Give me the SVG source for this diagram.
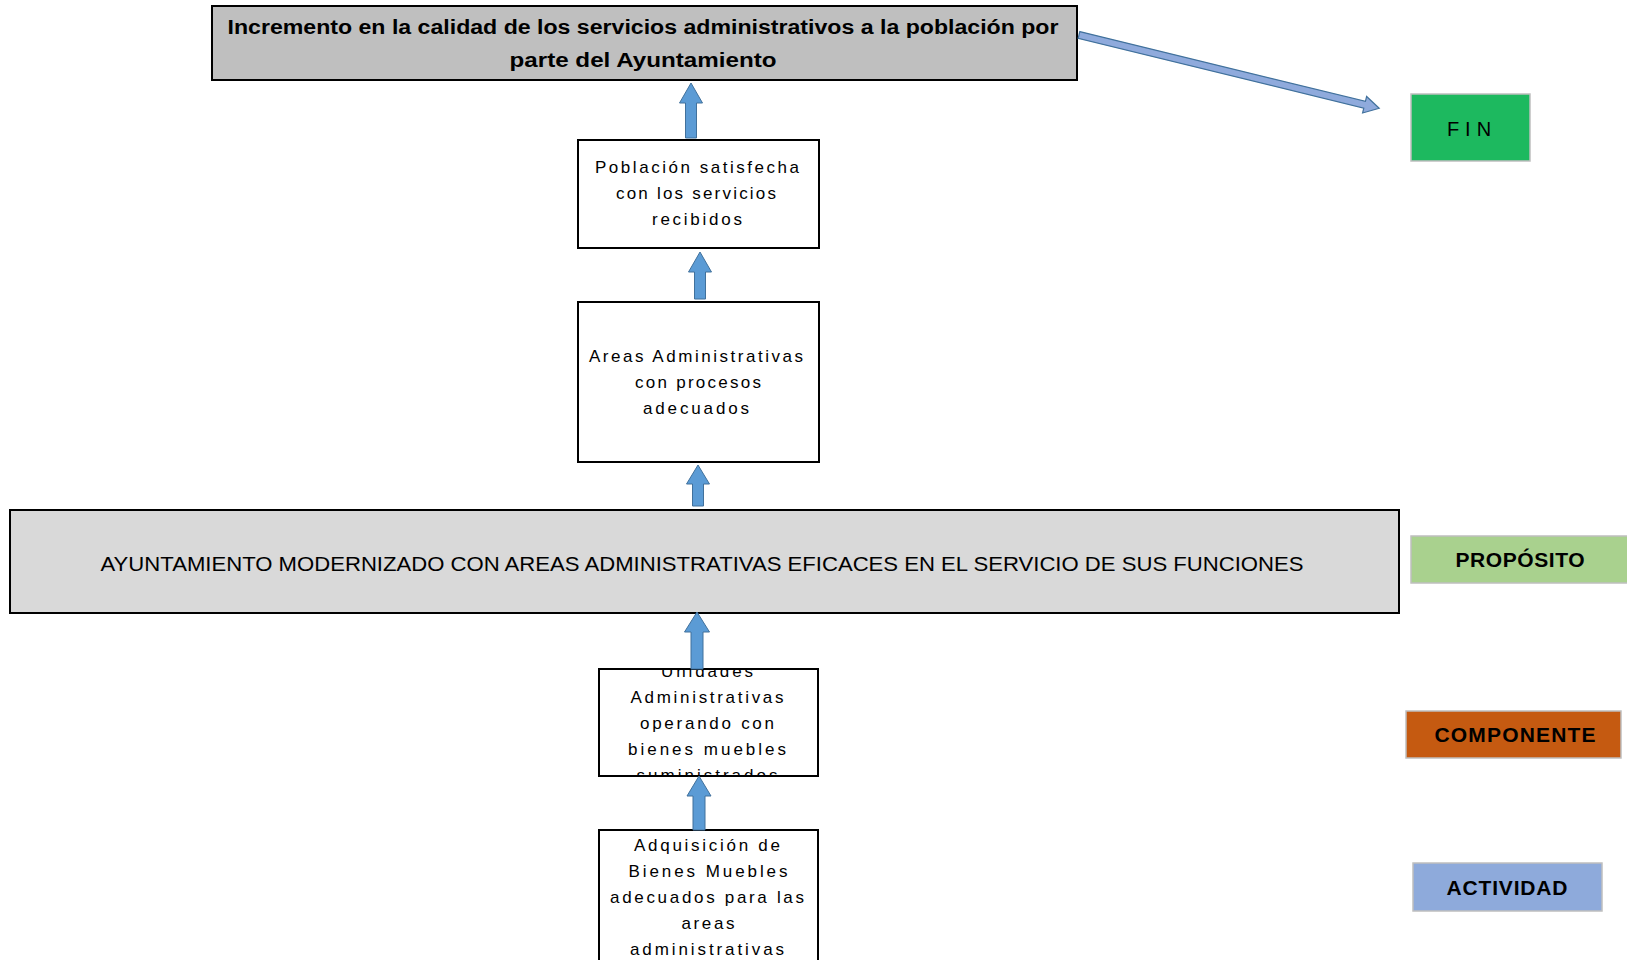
<svg xmlns="http://www.w3.org/2000/svg" width="1627" height="960" viewBox="0 0 1627 960">
<defs>
<style>
.box{stroke:#000;stroke-width:2}
.t{font-family:"Liberation Sans",Arial,sans-serif;fill:#000;text-anchor:middle}
.b{font-weight:bold}
.small{font-size:17px}
.arr{fill:#5b9bd5;stroke:#41719c;stroke-width:1}
.lab{stroke:#bfbfbf;stroke-width:1.5}
</style>
<clipPath id="clip5"><rect x="599" y="670" width="219" height="105"/></clipPath>
</defs>
<rect width="1627" height="960" fill="#fff"/>

<g id="fin-top">
<rect class="box" x="212" y="6" width="865" height="74" fill="#bfbfbf"/>
<text class="t b" x="643" y="34" font-size="20" textLength="831" lengthAdjust="spacingAndGlyphs">Incremento en la calidad de los servicios administrativos a la población por</text>
<text class="t b" x="643" y="67" font-size="20" textLength="267" lengthAdjust="spacingAndGlyphs">parte del Ayuntamiento</text>
</g>

<g id="poblacion">
<rect class="box" x="578" y="140" width="241" height="108" fill="#fff"/>
<text class="t small" x="697" y="173" textLength="204">Población satisfecha</text>
<text class="t small" x="696" y="199" textLength="160">con los servicios</text>
<text class="t small" x="697" y="225" textLength="90">recibidos</text>
</g>

<g id="areas">
<rect class="box" x="578" y="302" width="241" height="160" fill="#fff"/>
<text class="t small" x="696" y="362" textLength="214">Areas Administrativas</text>
<text class="t small" x="698" y="388" textLength="126">con procesos</text>
<text class="t small" x="696" y="414" textLength="106">adecuados</text>
</g>

<g id="proposito-box">
<rect class="box" x="10" y="510" width="1389" height="103" fill="#d9d9d9"/>
<text class="t" x="702" y="571" font-size="21" textLength="1203" lengthAdjust="spacingAndGlyphs">AYUNTAMIENTO MODERNIZADO CON AREAS ADMINISTRATIVAS EFICACES EN EL SERVICIO DE SUS FUNCIONES</text>
</g>

<g id="unidades">
<rect x="599" y="669" width="219" height="107" fill="#fff"/>
<g clip-path="url(#clip5)">
<text class="t small" x="707" y="677" textLength="92">Unidades</text>
<text class="t small" x="707" y="703" textLength="153">Administrativas</text>
<text class="t small" x="707" y="729" textLength="134">operando con</text>
<text class="t small" x="707" y="755" textLength="158">bienes muebles</text>
<text class="t small" x="707" y="781" textLength="141">suministrados</text>
</g>
<rect class="box" x="599" y="669" width="219" height="107" fill="none"/>
</g>

<g id="adquisicion">
<rect class="box" x="599" y="830" width="219" height="140" fill="#fff"/>
<text class="t small" x="707" y="851" textLength="146">Adquisición de</text>
<text class="t small" x="708" y="877" textLength="159">Bienes Muebles</text>
<text class="t small" x="707" y="903" textLength="194">adecuados para las</text>
<text class="t small" x="708" y="929" textLength="53">areas</text>
<text class="t small" x="707" y="955" textLength="154">administrativas</text>
</g>

<g id="label-fin">
<rect class="lab" x="1411" y="94" width="119" height="67" fill="#1db95f"/>
<text class="t" x="1472" y="136" font-size="20" letter-spacing="6">FIN</text>
</g>
<g id="label-proposito">
<rect class="lab" x="1411" y="536" width="217" height="47" fill="#a9d18e"/>
<text class="t b" x="1520" y="567" font-size="21" textLength="129">PROPÓSITO</text>
</g>
<g id="label-componente">
<rect class="lab" x="1406" y="711" width="215" height="47" fill="#c55a11"/>
<text class="t b" x="1515" y="742" font-size="21" textLength="161">COMPONENTE</text>
</g>
<g id="label-actividad">
<rect class="lab" x="1413" y="863" width="189" height="48" fill="#8eaadb"/>
<text class="t b" x="1507" y="895" font-size="21" textLength="121">ACTIVIDAD</text>
</g>

<g id="connectors">
<polygon class="arr" points="685.5,138 685.5,103 679.5,103 691,83 702.5,103 696.5,103 696.5,138"/>
<polygon class="arr" points="694.5,299 694.5,272 688.5,272 700,252 711.5,272 705.5,272 705.5,299"/>
<polygon class="arr" points="692.5,506 692.5,484 686.5,484 698,465 709.5,484 703.5,484 703.5,506"/>
<polygon class="arr" points="691,669 691,632 684.5,632 697,612 709.5,632 703,632 703,669"/>
<polygon class="arr" points="693,830 693,796 687,796 699,776 711,796 705,796 705,830"/>
<g transform="translate(1079,35) rotate(13.72)">
<polygon points="0,-3.5 294,-3.5 294,-8.5 309,0 294,8.5 294,3.5 0,3.5" fill="#8faadc" stroke="#41719c" stroke-width="1.2"/>
</g>
</g>
</svg>
